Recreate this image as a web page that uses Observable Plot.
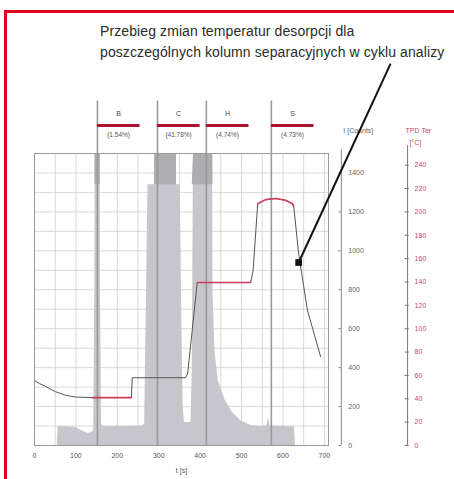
<!DOCTYPE html>
<html>
<head>
<meta charset="utf-8">
<script src="https://cdn.jsdelivr.net/npm/d3@7"></script>
<script src="https://cdn.jsdelivr.net/npm/@observablehq/plot@0.6"></script>
<style>
  html, body { margin: 0; padding: 0; background: #fff; }
  body { width: 454px; height: 479px; overflow: hidden; position: relative; font-family: "Liberation Sans", Arial, sans-serif; }
  #frame { position: absolute; left: 4px; top: 10px; width: 480px; height: 490px; border-top: 3px solid #e2001a; border-left: 3px solid #e2001a; }
  #title { position: absolute; left: 100px; top: 21px; font-size: 14px; line-height: 21px; color: #2b2b2b; white-space: nowrap; letter-spacing: 0.1px; }
  #chart { position: absolute; left: 0; top: 60px; }
</style>
</head>
<body>
<div id="frame"></div>
<div id="title">Przebieg zmian temperatur desorpcji dla<br>poszczególnych kolumn separacyjnych w cyklu analizy</div>
<div id="chart"></div>
<script>
// ---- data ----
const xTicks = [0, 100, 200, 300, 400, 500, 600, 700];
const xGrid = [50, 100, 150, 200, 250, 300, 350, 400, 450, 500, 550, 600, 650, 700];
const yGrid = [100, 200, 300, 400, 500, 600, 700, 800, 900, 1000, 1100, 1200, 1300, 1400];
const countTicks = [0, 200, 400, 600, 800, 1000, 1200, 1400];
const tempTicks = [0, 20, 40, 60, 80, 100, 120, 140, 160, 180, 200, 220, 240];

// chromatogram (time s, counts)
const chromT = [55, 57, 80, 100, 118, 130, 140, 143, 146, 148, 157, 159, 162, 166, 220, 262, 266, 270, 274, 290, 292, 341, 343, 352, 356, 359, 362, 378, 381, 384, 387, 428, 431, 436, 444, 460, 478, 498, 522, 550, 561, 565, 569, 600, 628, 630];
const chromC = [0, 98, 96, 92, 72, 62, 70, 78, 900, 3000, 3000, 900, 110, 98, 98, 100, 110, 700, 1340, 1340, 3000, 3000, 1340, 1340, 600, 200, 118, 118, 400, 1500, 3000, 3000, 780, 480, 330, 235, 170, 128, 103, 98, 100, 140, 100, 98, 95, 0];

// temperature programme (time s, °C)
const tempT = [0, 12, 27, 51, 75, 99, 140, 234, 236, 365, 370, 393, 522, 528, 539, 558, 582, 606, 623, 626, 638, 659, 691];
const tempC = [55.6, 53, 50.5, 46, 43, 41.5, 41, 41, 58, 58, 62, 139.5, 139.5, 150, 207, 210.5, 211.5, 210, 207, 205, 164, 116, 76];
const redStart = [140, 393, 539];
const redEnd = [234, 522, 626];

// peak labels
const peakNames = ["B", "C", "H", "S"];
const peakPct = ["(1.54%)", "(41.78%)", "(4.74%)", "(4.73%)"];
const peakMarkT = [152, 297, 415, 572];

// annotation arrow (time, counts-equivalent)
const arrowFrom = [860, 1962];
const arrowTo = [638, 940];

// ---- derived tables ----
const TEMP_SCALE = 6; // 250 °C spans the same height as 1500 counts
const chrom = chromT.map((t, i) => ({t, c: chromC[i]}));
const temp = tempT.map((t, i) => ({t, c: tempC[i] * TEMP_SCALE}));
const redSegs = [];
redStart.forEach((s, k) => temp.forEach(d => { if (d.t >= s && d.t <= redEnd[k]) redSegs.push({...d, seg: k}); }));
const peaks = peakNames.map((n, i) => ({name: n, pct: peakPct[i], t: peakMarkT[i]}));
const countAxisT = 741, tempAxisT = 901;

const plot = Plot.plot({
  width: 454,
  height: 419,
  marginTop: 93,
  marginBottom: 34,
  marginLeft: 34,
  marginRight: 126,
  style: {fontFamily: "'Liberation Sans', Arial, sans-serif", fontSize: "7px", background: "transparent"},
  x: {domain: [0, 710]},
  y: {domain: [0, 1500], axis: null},
  marks: [
    Plot.gridX(xGrid, {stroke: "#cfcfcf", strokeOpacity: 1, strokeWidth: 0.8}),
    Plot.gridY(yGrid, {stroke: "#cfcfcf", strokeOpacity: 1, strokeWidth: 0.8}),
    Plot.areaY(chrom, {x: "t", y: "c", fill: "#c6c6cc", clip: true, curve: "linear"}),
    Plot.areaY(chrom, {x: "t", y1: 1340, y2: d => Math.max(d.c, 1340), fill: "#adadb0", clip: true}),
    Plot.ruleX(peaks, {x: "t", y1: 0, y2: 1770, stroke: "#9a9a9a", strokeWidth: 1.6}),
    Plot.line(temp, {x: "t", y: "c", stroke: "#555", strokeWidth: 1}),
    Plot.line(redSegs, {x: "t", y: "c", z: "seg", stroke: "#d0405a", strokeWidth: 1.6}),
    Plot.frame({stroke: "#9a9a9a"}),
    // peak labels above plot
    Plot.text(peaks, {x: d => d.t + 51, y: 1705, text: "name", fill: "#444", fontSize: 7}),
    Plot.ruleY(peaks, {x1: "t", x2: d => d.t + 103, y: 1644, stroke: "#b0142c", strokeWidth: 3}),
    Plot.text(peaks, {x: d => d.t + 51, y: 1597, text: "pct", fill: "#555", fontSize: 6.5}),
    // x axis
    Plot.axisX(xTicks, {tickSize: 0, tickPadding: 8, fill: "#555", fontSize: 7, label: null}),
    Plot.text(["t [s]"], {frameAnchor: "bottom", dy: 27, fill: "#555", fontSize: 7}),
    // counts axis
    Plot.ruleX([countAxisT], {y1: 0, y2: 1520, stroke: "#888", strokeWidth: 1}),
    Plot.ruleY(countTicks, {y: d => d, x1: countAxisT - 6, x2: countAxisT, stroke: "#888"}),
    Plot.text(countTicks, {x: countAxisT, y: d => d, text: d => String(d), dx: 7, textAnchor: "start", fill: "#666", fontSize: 7}),
    Plot.text(["I [Counts]"], {x: countAxisT, y: 1618, dx: 2, textAnchor: "start", fill: "#666", fontSize: 7}),
    // temperature axis
    Plot.ruleX([tempAxisT], {y1: 0, y2: 1540, stroke: "#777", strokeWidth: 1}),
    Plot.ruleY(tempTicks, {y: d => d * TEMP_SCALE, x1: tempAxisT - 6, x2: tempAxisT + 4, stroke: "#777"}),
    Plot.text(tempTicks, {x: tempAxisT, y: d => d * TEMP_SCALE, text: d => String(d), dx: 7, textAnchor: "start", fill: "#c8485e", fontSize: 7}),
    Plot.text(["TPD Ter"], {x: tempAxisT, y: 1618, dx: -2, textAnchor: "start", fill: "#c8485e", fontSize: 7}),
    Plot.text(["[°C]"], {x: tempAxisT, y: 1556, dx: 2, textAnchor: "start", fill: "#c8485e", fontSize: 7}),
    // annotation arrow
    Plot.link([{x1: arrowFrom[0], y1: arrowFrom[1], x2: arrowTo[0], y2: arrowTo[1]}], {x1: "x1", y1: "y1", x2: "x2", y2: "y2", stroke: "#111", strokeWidth: 2}),
    Plot.dot([{x: arrowTo[0], y: arrowTo[1]}], {x: "x", y: "y", symbol: "square", r: 3.8, fill: "#111", stroke: "none"})
  ]
});
document.getElementById("chart").appendChild(plot);
</script>
</body>
</html>
